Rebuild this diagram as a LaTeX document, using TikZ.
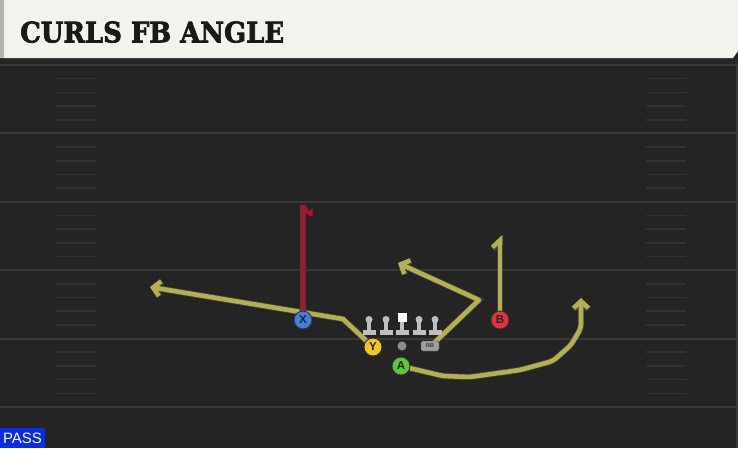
\documentclass[tikz,border=0pt]{standalone}
\usepackage{fontspec}
\setmainfont{Liberation Sans}
\newfontfamily\titlefont[BoldFeatures={FakeBold=2.5}]{DejaVu Serif}
\usetikzlibrary{arrows.meta}

\definecolor{field}{HTML}{242424}
\definecolor{yardline}{HTML}{393939}
\definecolor{hashmark}{HTML}{323232}
\definecolor{header}{HTML}{F4F2EC}
\definecolor{route}{HTML}{B3B04E}
\definecolor{hotroute}{HTML}{B0122E}
\definecolor{xblue}{HTML}{3F7FE0}
\definecolor{yyellow}{HTML}{F2C425}
\definecolor{agreen}{HTML}{5DC83A}
\definecolor{bred}{HTML}{E2323F}
\definecolor{lineman}{HTML}{BEBEBE}
\definecolor{passblue}{HTML}{0A2CE6}

\tikzset{
  player/.style={circle, draw=black!80, line width=0.9pt, minimum size=18pt, inner sep=0pt,
    font=\fontsize{11.5}{11.5}\selectfont\bfseries, text=black!85},
  routeline/.style={line width=4.6pt, line join=round, line cap=round,
    preaction={draw=black!75, line width=6.2pt}},
  tip/.style={-{Straight Barb[length=7pt,width=15pt]}},
}

\begin{document}
\begin{tikzpicture}[x=1pt,y=-1pt]
    \useasboundingbox (0,0) rectangle (738,448);
    \fill[field] (0,0) rectangle (738,448);

    % header
    \fill[black!85] (0,58) rectangle (738,63);
    \fill[header] (0,0) -- (738,0) -- (738,51) -- (733,58) -- (0,58) -- cycle;
    \fill[black!30] (0,0) rectangle (4,58);
    \node[anchor=south west, inner sep=0pt, text=black!90] (title) at (20,43)
      {\resizebox{264pt}{21pt}{\titlefont\bfseries CURLS FB ANGLE}};

    % field lines
    \foreach \i in {0,...,5}
      \draw[yardline, line width=2pt] (0,65+68.4*\i) -- (738,65+68.4*\i);
    \foreach \i in {0,...,4}
      \foreach \k in {1,...,4} {
        \draw[hashmark, line width=1.6pt] (56,65+68.4*\i+13.68*\k) -- ++(40,0);
        \draw[hashmark, line width=1.6pt] (646,65+68.4*\i+13.68*\k) -- ++(40,0);
      }
    \draw[yardline, line width=2pt] (737,63) -- (737,448);

    % positions
    \coordinate (posX) at (303,320);
    \coordinate (posY) at (373,347);
    \coordinate (posA) at (401,366);
    \coordinate (posB) at (500,320);
    \coordinate (posRB) at (432,345);

    \coordinate (endX) at (303,206);
    \coordinate (endY) at (150,287);
    \coordinate (endRB) at (398,263);
    \coordinate (endB) at (500,235);
    \coordinate (endA) at (581,298);

    % routes
    \draw[routeline, route, tip] (posY) -- (343,319) -- (endY);
    \draw[routeline, route, tip] (posRB) -- (479,300) -- (endRB);
    \draw[routeline, route, -{Straight Barb[left,length=7pt,width=15pt]}] (posB) -- (endB);
    \draw[routeline, route, tip, rounded corners=4pt] (posA) -- (443,376) -- (470,377)
      -- (520,370) -- (553,361) -- (571,345) -- (581,328) -- (endA);
    \draw[routeline, hotroute, line cap=butt] (posX) -- (endX);
    \fill[hotroute] (300.7,205) -- (305.3,205) -- (309,211) -- (312.5,208) -- (312.5,216.5)
      -- (309,215.5) -- (305.3,212) -- (305.3,214) -- (300.7,214) -- cycle;

    % line
    \foreach \lx in {369,386,419,435} {
      \fill[lineman] (\lx,319.5) circle (3.5pt);
      \fill[lineman] (\lx-2.3,322) rectangle (\lx+2.3,330);
      \fill[lineman] (\lx-6.5,330) rectangle (\lx+6.5,334.5);
    }
    \fill[white] (397.5,313) rectangle (406.5,322);
    \fill[lineman] (399.7,322) rectangle (404.3,330);
    \fill[lineman] (395.5,330) rectangle (408.5,334.5);
    \fill[black!45] (402,346) circle (4.5pt);

    % players
    \node[player, fill=xblue] (X) at (posX) {X};
    \node[player, fill=yyellow] (Y) at (posY) {Y};
    \node[player, fill=agreen] (A) at (posA) {A};
    \node[player, fill=bred] (B) at (posB) {B};
    \node[draw=black!70, fill=black!38, rounded corners=2pt, minimum width=18pt, minimum height=10pt,
      inner sep=0pt, font=\fontsize{5.5}{5.5}\selectfont\bfseries, text=black!80] (RB) at (430,346) {RB};

    \fill[passblue] (0,428) rectangle (45,448);
    \node[text=white, font=\fontsize{15}{15}\selectfont] (pass) at (22.5,438.5) {PASS};
  \end{tikzpicture}
\end{document}
